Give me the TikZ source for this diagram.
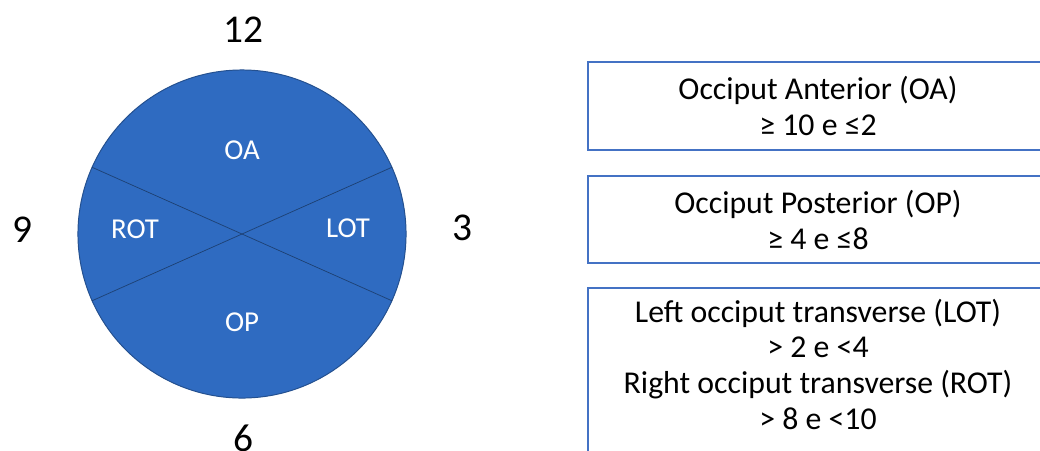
\documentclass[tikz,border=0pt]{standalone}
\usepackage{fontspec}
\setmainfont{Carlito}
\usetikzlibrary{positioning}
\definecolor{discblue}{HTML}{2F6BC1}
\definecolor{discedge}{HTML}{24508F}
\definecolor{boxblue}{HTML}{4472C4}

\begin{document}
\begin{tikzpicture}[x=0.025cm,y=-0.025cm,
    hour/.style={font=\fontsize{28}{32}\selectfont},
    zone/.style={text=white,font=\fontsize{20.5}{24}\selectfont},
    infotext/.style={align=center,font=\fontsize{22.6}{25.4}\selectfont},
    infobox/.style={draw=boxblue,line width=1.6pt}]
    \useasboundingbox (0,0) rectangle (1040,450);

    % the clock disc
    \node[circle,draw=discedge,fill=discblue,line width=0.7pt,
        minimum size=8.2cm,inner sep=0pt] (disc) at (242,234) {};
    \foreach \a/\b in {156/-24,204/24} {
        \draw[discedge!80!black,line width=0.5pt] (disc.\a) -- (disc.\b);
        }
    \node[zone] (oa)  at (242,150) {OA};
    \node[zone] (rot) at (135,229) {ROT};
    \node[zone] (lot) at (348,228) {LOT};
    \node[zone] (op)  at (242,322) {OP};

    % the hours
    \node[hour] (h12) at (243,30)  {12};
    \node[hour] (h9)  at (22,230)  {9};
    \node[hour] (h3)  at (462,228) {3};
    \node[hour] (h6)  at (243,438) {6};

    % the boxes
    \draw[infobox] (588,62)  rectangle (1048,150);
    \draw[infobox] (588,176) rectangle (1048,263);
    \draw[infobox] (588,288) rectangle (1048,470);
    \node[infotext] (oatext) at (818,106)
        {Occiput Anterior (OA)\\≥ 10 e ≤2};
    \node[infotext] (optext) at (818,220)
        {Occiput Posterior (OP)\\≥ 4 e ≤8};
    \node[infotext,anchor=north] (ottext) at (818,294)
        {Left occiput transverse (LOT)\\> 2 e <4\\Right occiput transverse (ROT)\\> 8 e <10};
\end{tikzpicture}
\end{document}
